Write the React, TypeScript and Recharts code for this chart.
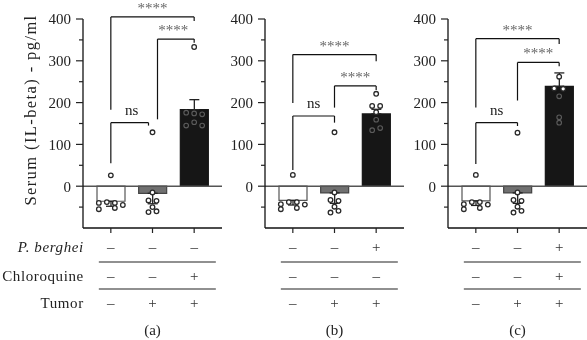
import React from 'react';
import { ComposedChart, Bar, Cell, XAxis, YAxis, Scatter, ErrorBar, ReferenceLine } from 'recharts';

// ---------- data ----------
const categories = ['c1', 'c2', 'c3'];

const meansA = [-36, -17, 183];
const semA = [12, 25, 24];
const meansB = [-34, -16, 173];
const semB = [11, 25, 11];
const meansC = [-35, -16, 239];
const semC = [11, 25, 32];

const ptsA1 = [26, -40, -38, -40, -45, -55, -52];
const ptsA2 = [129, -15, -34, -35, -50, -62, -60];
const ptsA3 = [333, 176, 174, 172, 153, 145, 145];
const ptsB1 = [27, -43, -38, -38, -44, -55, -52];
const ptsB2 = [129, -15, -33, -35, -49, -63, -59];
const ptsB3 = [221, 192, 192, 177, 159, 134, 139];
const ptsC1 = [27, -43, -38, -38, -44, -55, -52];
const ptsC2 = [128, -15, -33, -35, -49, -63, -59];
const ptsC3 = [262, 234, 233, 215, 165, 152];

const yTicks = [-50, 0, 50, 100, 150, 200, 250, 300, 350, 400];
const yLabeled = [0, 100, 200, 300, 400];
const yTitle = 'Serum (IL-beta) - pg/ml';

const rowLabels = ['P. berghei', 'Chloroquine', 'Tumor'];
const bergheiA = ['–', '–', '–'];
const chloroA = ['–', '–', '+'];
const tumorA = ['–', '+', '+'];
const bergheiB = ['–', '–', '+'];
const chloroB = ['–', '–', '–'];
const tumorB = ['–', '+', '+'];
const bergheiC = ['–', '–', '+'];
const chloroC = ['–', '–', '+'];
const tumorC = ['–', '+', '+'];
const panelLetters = ['(a)', '(b)', '(c)'];

type Br = { from: string; to: string; top: number; left: number; right: number; label: string };
const bracketsA: Br[] = [
  { from: 'c1', to: 'c2', top: 152, left: 55, right: 145, label: 'ns' },
  { from: 'c2', to: 'c3', top: 352, left: 160, right: 343, label: '****' },
  { from: 'c1', to: 'c3', top: 405, left: 183, right: 395, label: '****' },
];
const bracketsB: Br[] = [
  { from: 'c1', to: 'c2', top: 168, left: 39, right: 152, label: 'ns' },
  { from: 'c2', to: 'c3', top: 240, left: 188, right: 230, label: '****' },
  { from: 'c1', to: 'c3', top: 315, left: 199, right: 299, label: '****' },
];
const bracketsC: Br[] = [
  { from: 'c1', to: 'c2', top: 152, left: 53, right: 144, label: 'ns' },
  { from: 'c2', to: 'c3', top: 296, left: 205, right: 287, label: '****' },
  { from: 'c1', to: 'c3', top: 353, left: 188, right: 340, label: '****' },
];

// ---------- layout / style constants ----------
const FONT = "'Liberation Serif', 'Times New Roman', serif";
const barFills = ['#ffffff', '#707070', '#161616'];
const barStrokes = ['#555555', '#444444', '#161616'];
const jitterA = [[0, -12, -4, 4, 12, -12, 4], [0, 0, -4, 4, 0, -4, 4], [0, -8, 0, 8, 0, -8, 8]];
const jitterB = [[0, -12, -4, 4, 12, -12, 4], [0, 0, -4, 4, 0, -4, 4], [0, -4, 4, 0, 0, -4, 4]];
const jitterC = [[0, -12, -4, 4, 12, -12, 4], [0, 0, -4, 4, 0, -4, 4], [0, -5, 4, 0, 0, 0]];
const nudgeA = [[0, -4], [5, 0], [0, 0]];

const buildBars = (means: number[], sem: number[]) =>
  categories.map((c, i) => ({ cat: c, mean: means[i], err: means[i] < 0 ? [sem[i], 0] : [0, sem[i]] }));
const buildPts = (arrs: number[][]) =>
  arrs.flatMap((arr, ci) => arr.map((v, i) => ({ cat: categories[ci], v, i })));

const makeDot = (jit: number[][], means: number[]) => (props: any) => {
  const { cx, cy, payload } = props;
  if (cx == null || cy == null) return <g />;
  const ci = categories.indexOf(payload.cat);
  const dx = (jit[ci] && jit[ci][payload.i]) || 0;
  const inside = ci === 2 && payload.v < means[2] - 6;
  return (
    <circle cx={cx + dx} cy={cy} r={2.3} fill={inside ? '#161616' : '#ffffff'}
      stroke={inside ? '#5c5c5c' : '#2a2a2a'} strokeWidth={inside ? 1.1 : 1.3} />
  );
};

const YTick = (props: any) => {
  const { x, y, payload } = props;
  const v = payload.value;
  const major = yLabeled.includes(v);
  return (
    <g>
      <line x1={x - (major ? 7 : 4)} x2={x} y1={y} y2={y} stroke="#222" strokeWidth={1.2} />
      {major && (
        <text x={x - 12} y={y} dy="0.36em" textAnchor="end" fontFamily={FONT} fontSize={15} fill="#222">
          {v}
        </text>
      )}
    </g>
  );
};

const makeXTick = (rows: string[][], letter: string, showLabels: boolean) => (props: any) => {
  const { x, y, payload } = props;
  const ci = categories.indexOf(payload.value);
  const baselines = [24, 53, 80];
  return (
    <g>
      <line x1={x} x2={x} y1={y} y2={y + 5} stroke="#222" strokeWidth={1.2} />
      {rows.map((r, ri) => (
        <text key={ri} x={x} y={y + baselines[ri]} textAnchor="middle" fontFamily={FONT} fontSize={15} fill="#333">
          {r[ci]}
        </text>
      ))}
      {ci === 0 && (
        <g>
          <line x1={x - 12} x2={x + 105} y1={y + 34} y2={y + 34} stroke="#222" strokeWidth={1.2} />
          <line x1={x - 12} x2={x + 105} y1={y + 61} y2={y + 61} stroke="#222" strokeWidth={1.2} />
        </g>
      )}
      {ci === 0 && showLabels &&
        rowLabels.map((l, ri) => (
          <text key={'l' + ri} x={x - 27} y={y + baselines[ri]} textAnchor="end" fontFamily={FONT}
            fontSize={15} letterSpacing={0.6} fill="#222" fontStyle={ri === 0 ? 'italic' : 'normal'}>
            {l}
          </text>
        ))}
      {ci === 1 && (
        <text x={x} y={y + 107} textAnchor="middle" fontFamily={FONT} fontSize={15} fill="#222">
          {letter}
        </text>
      )}
    </g>
  );
};

function bracketLines(b: Br, key: string, nudge: number[] = [0, 0]) {
  const [dl, dr] = nudge;
  const shp = (d1: number, d2: number) => (p: any) => (
    <line x1={p.x1 + d1} y1={p.y1} x2={p.x2 + d2} y2={p.y2} stroke="#111" strokeWidth={1.2} fill="none" />
  );
  return [
    <ReferenceLine key={key + 'l'} segment={[{ x: b.from, y: b.left }, { x: b.from, y: b.top }]}
      ifOverflow="visible" shape={shp(dl, dl)} />,
    <ReferenceLine key={key + 't'} segment={[{ x: b.from, y: b.top }, { x: b.to, y: b.top }]}
      ifOverflow="visible" shape={shp(dl, dr)}
      label={{ value: b.label, position: 'top', offset: b.label === 'ns' ? 8 : 4, fill: b.label === 'ns' ? '#222' : '#666', fontSize: 15, fontFamily: FONT }} />,
    <ReferenceLine key={key + 'r'} segment={[{ x: b.to, y: b.top }, { x: b.to, y: b.right }]}
      ifOverflow="visible" shape={shp(dr, dr)} />,
  ];
}

type PanelProps = {
  left: number; width: number; marginLeft: number; marginRight: number; yWidth: number;
  means: number[]; sem: number[]; pts: number[][]; jit: number[][]; rows: string[][];
  letter: string; showLabels: boolean; brackets: Br[]; nudges?: number[][];
};

function Panel(p: PanelProps) {
  const bars = buildBars(p.means, p.sem);
  const pts = buildPts(p.pts);
  return (
    <div style={{ position: 'absolute', left: p.left, top: 0, willChange: 'transform' }}>
      <ComposedChart width={p.width} height={340} data={bars}
        margin={{ top: 19, right: p.marginRight, bottom: 0, left: p.marginLeft }}>
        <XAxis dataKey="cat" type="category" allowDuplicatedCategory={false} height={112}
          padding={{ left: 7, right: 7 }} tickSize={0} tickMargin={0} tickLine={false}
          axisLine={{ stroke: '#111', strokeWidth: 1.3 }} interval={0}
          tick={makeXTick(p.rows, p.letter, p.showLabels)} />
        <YAxis type="number" domain={[-100, 400]} allowDataOverflow ticks={yTicks} width={p.yWidth}
          tickSize={0} tickMargin={0} tickLine={false} interval={0}
          axisLine={{ stroke: '#111', strokeWidth: 1.3 }} tick={<YTick />} />
        <ReferenceLine y={0} stroke="#555" strokeWidth={1.5} />
        <Bar dataKey="mean" barSize={28} isAnimationActive={false} strokeWidth={1.2}>
          {bars.map((b, i) => (
            <Cell key={b.cat} fill={barFills[i]} stroke={barStrokes[i]} />
          ))}
          <ErrorBar dataKey="err" direction="y" width={5} stroke="#222" strokeWidth={1.3} />
        </Bar>
        <Scatter data={pts} dataKey="v" isAnimationActive={false} shape={makeDot(p.jit, p.means)} />
        {p.brackets.flatMap((b, i) => bracketLines(b, 'b' + i, p.nudges ? p.nudges[i] : [0, 0]))}
      </ComposedChart>
    </div>
  );
}

export default function App() {
  return (
    <div style={{ position: 'absolute', left: 0, top: 0, width: 587, height: 340, background: '#fff', overflow: 'hidden' }}>
      <svg width={587} height={340} style={{ position: 'absolute', left: 0, top: 0, willChange: 'transform' }}>
        <text x={30} y={110} transform="rotate(-90 30 110)" textAnchor="middle" dominantBaseline="central"
          fontFamily={FONT} fontSize={16.5} letterSpacing={1.4} fill="#222">
          {yTitle}
        </text>
      </svg>
      <Panel left={0} width={230} marginLeft={33} marginRight={8} yWidth={50}
        means={meansA} sem={semA} pts={[ptsA1, ptsA2, ptsA3]} jit={jitterA}
        rows={[bergheiA, chloroA, tumorA]} letter={panelLetters[0]} showLabels={true}
        brackets={bracketsA} nudges={nudgeA} />
      <Panel left={200} width={212} marginLeft={20} marginRight={8} yWidth={45}
        means={meansB} sem={semB} pts={[ptsB1, ptsB2, ptsB3]} jit={jitterB}
        rows={[bergheiB, chloroB, tumorB]} letter={panelLetters[1]} showLabels={false}
        brackets={bracketsB} />
      <Panel left={390} width={197} marginLeft={13} marginRight={0} yWidth={45}
        means={meansC} sem={semC} pts={[ptsC1, ptsC2, ptsC3]} jit={jitterC}
        rows={[bergheiC, chloroC, tumorC]} letter={panelLetters[2]} showLabels={false}
        brackets={bracketsC} />
    </div>
  );
}
